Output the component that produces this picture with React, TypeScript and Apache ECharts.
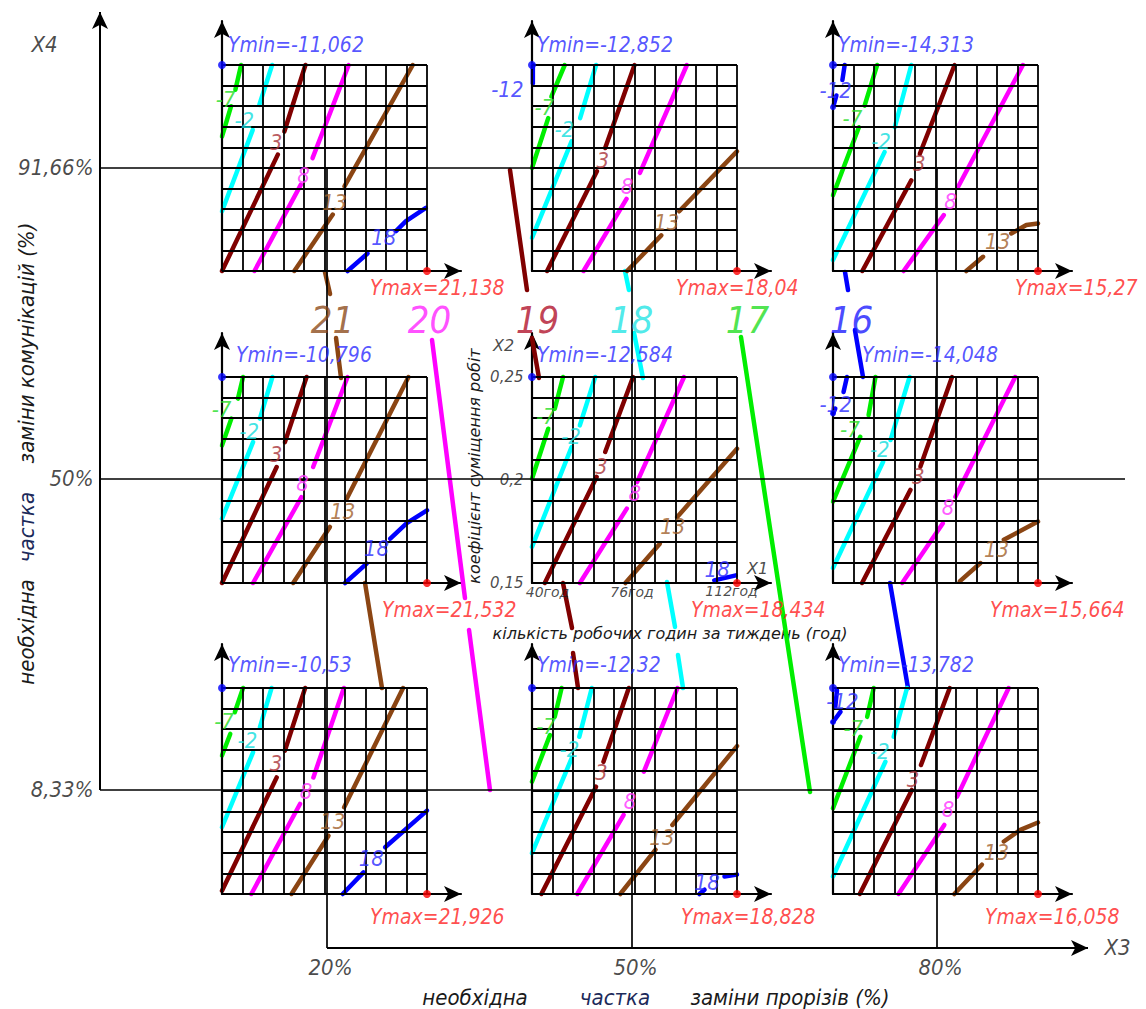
import React, { useEffect, useRef } from "react";
import * as echarts from "echarts";

const W = 1146;
const H = 1009;
const FONT = "'DejaVu Sans Condensed', 'DejaVu Sans', sans-serif";
const FONT_WIDE = "'DejaVu Sans', sans-serif";

// ---------- outer axes (X3 horizontal, X4 vertical), %
const x3Ticks = [20, 50, 80];
const x3TickLabels = ["20%", "50%", "80%"];
const x4Ticks = [91.66, 50, 8.33];
const x4TickLabels = ["91,66%", "50%", "8,33%"];

// ---------- inner axes of each small panel (X1 hours, X2 coefficient)
const x1GridValues = [40, 47.2, 54.4, 61.6, 68.8, 76, 83.2, 90.4, 97.6, 104.8, 112];
const x2GridValues = [0.15, 0.16, 0.17, 0.18, 0.19, 0.2, 0.21, 0.22, 0.23, 0.24, 0.25];
const x1Ticks = [40, 76, 112];
const x1TickLabels = ["40год", "76год", "112год"];
const x2Ticks = [0.25, 0.2, 0.15];
const x2TickLabels = ["0,25", "0,2", "0,15"];

// ---------- extreme values per panel (rows top->bottom, cols left->right)
const yMinValues = ["-11,062", "-12,852", "-14,313", "-10,796", "-12,584", "-14,048", "-10,53", "-12,32", "-13,782"];
const yMaxValues = ["21,138", "18,04", "15,27", "21,532", "18,434", "15,664", "21,926", "18,828", "16,058"];

type Pt = [number, number];
type Contour = { level: string; segs: Pt[][]; label: Pt };

// ---------- isolines per panel: [X1, X2]
const panelTopLeft: Contour[] = [
  { level: "-7", segs: [[[46.7, 0.25], [44.7, 0.238]], [[43.2, 0.23], [40, 0.2153]]], label: [41.4, 0.233] },
  { level: "-2", segs: [[[57.6, 0.25], [53.1, 0.2306]], [[50.8, 0.2185], [40, 0.179]]], label: [48.0, 0.2226] },
  { level: "3", segs: [[[69.3, 0.25], [61.9, 0.2177]], [[59.6, 0.2065], [40, 0.15]]], label: [59.2, 0.212] },
  { level: "8", segs: [[[84.5, 0.25], [71.8, 0.2048]], [[67.7, 0.1919], [51.4, 0.15]]], label: [68.8, 0.196] },
  { level: "13", segs: [[[107.0, 0.25], [83.0, 0.1911]], [[78.9, 0.1774], [65.4, 0.15]]], label: [79.6, 0.183] },
  { level: "18", segs: [[[84.1, 0.15], [91.1, 0.1585]], [[101.1, 0.1694], [104.6, 0.1742], [111.6, 0.1806]]], label: [97.0, 0.1661] },
];
const panelTopMid: Contour[] = [
  { level: "-12", segs: [[[40.3, 0.25], [40.3, 0.241]]], label: [31.5, 0.2379] },
  { level: "-7", segs: [[[51.5, 0.25], [46.8, 0.2347]], [[45.7, 0.2242], [40, 0.2]]], label: [44.5, 0.229] },
  { level: "-2", segs: [[[62.5, 0.25], [56.9, 0.2242]], [[53.9, 0.2129], [40, 0.1661]]], label: [51.5, 0.2185] },
  { level: "3", segs: [[[76.0, 0.25], [65.7, 0.2097]], [[62.8, 0.1984], [45.3, 0.15]]], label: [65.0, 0.2035] },
  { level: "8", segs: [[[94.4, 0.25], [77.9, 0.1976]], [[73.2, 0.185], [58.1, 0.15]]], label: [73.6, 0.1908] },
  { level: "13", segs: [[[73.4, 0.15], [85.4, 0.1673]], [[91.7, 0.179], [112, 0.2081]]], label: [87.5, 0.1734] },
];
const panelTopRight: Contour[] = [
  { level: "-12", segs: [[[44.1, 0.25], [43.3, 0.2427]], [[41.2, 0.2352], [40.2, 0.2303]]], label: [41.1, 0.2376] },
  { level: "-7", segs: [[[55.5, 0.25], [51.1, 0.2303]], [[49.1, 0.2198], [40, 0.1868]]], label: [47.0, 0.2239] },
  { level: "-2", segs: [[[67.5, 0.25], [61.7, 0.2198]], [[58.1, 0.2077], [40, 0.1553]]], label: [57.0, 0.2126] },
  { level: "3", segs: [[[82.7, 0.25], [70.5, 0.2069]], [[67.5, 0.194], [50.3, 0.15]]], label: [70.5, 0.2021] },
  { level: "8", segs: [[[106.7, 0.25], [83.9, 0.1908]], [[78.9, 0.1771], [64.8, 0.15]]], label: [81.5, 0.1835] },
  { level: "13", segs: [[[86.8, 0.15], [92.7, 0.1569]], [[102.6, 0.1682], [107.9, 0.1723], [112, 0.1731]]], label: [98.0, 0.1642] },
];
const panelMidLeft: Contour[] = [
  { level: "-7", segs: [[[47.4, 0.25], [45.6, 0.2395]], [[43.3, 0.2298], [40, 0.2168]]], label: [40.0, 0.2338] },
  { level: "-2", segs: [[[57.7, 0.25], [53.3, 0.2298]], [[50.9, 0.2184], [40, 0.1812]]], label: [49.7, 0.2233] },
  { level: "3", segs: [[[69.7, 0.25], [62.1, 0.2184]], [[59.2, 0.2063], [40, 0.15]]], label: [59.2, 0.212] },
  { level: "8", segs: [[[84.1, 0.25], [72.0, 0.2063]], [[67.9, 0.1917], [50.9, 0.15]]], label: [68.5, 0.1982] },
  { level: "13", segs: [[[105.5, 0.25], [83.8, 0.1909]], [[77.9, 0.1772], [65.0, 0.15]]], label: [82.6, 0.1845] },
  { level: "18", segs: [[[83.2, 0.15], [90.8, 0.1594]], [[99.1, 0.1715], [104.9, 0.1791], [112, 0.1853]]], label: [94.4, 0.1667] },
];
const panelMidMid: Contour[] = [
  { level: "-7", segs: [[[50.9, 0.25], [48.0, 0.2346]], [[45.7, 0.2249], [40, 0.2006]]], label: [45.0, 0.2306] },
  { level: "-2", segs: [[[62.2, 0.25], [56.8, 0.2265]], [[53.9, 0.216], [40, 0.1675]]], label: [53.9, 0.2209] },
  { level: "3", segs: [[[75.5, 0.25], [65.7, 0.2136]], [[62.7, 0.2015], [44.5, 0.15]]], label: [64.5, 0.2063] },
  { level: "8", segs: [[[93.4, 0.25], [76.9, 0.199]], [[73.3, 0.1861], [56.8, 0.15]]], label: [76.3, 0.1934] },
  { level: "13", segs: [[[72.8, 0.15], [84.9, 0.1691]], [[91.0, 0.182], [112, 0.2152]]], label: [89.6, 0.1772] },
  { level: "18", segs: [[[104.0, 0.1513], [111.6, 0.1537]]], label: [105.2, 0.1565] },
];
const panelMidRight: Contour[] = [
  { level: "-12", segs: [[[44.9, 0.25], [43.7, 0.2427]], [[40.8, 0.2347], [40, 0.2323]]], label: [41.1, 0.2363] },
  { level: "-7", segs: [[[54.9, 0.25], [52.5, 0.2315]], [[49.6, 0.221], [40, 0.1895]]], label: [46.1, 0.2242] },
  { level: "-2", segs: [[[66.9, 0.25], [60.2, 0.2194]], [[57.6, 0.2089], [40, 0.1573]]], label: [56.6, 0.2145] },
  { level: "3", segs: [[[81.8, 0.25], [70.7, 0.2065]], [[67.2, 0.1952], [50.2, 0.15]]], label: [70.1, 0.2016] },
  { level: "8", segs: [[[104.0, 0.25], [83.0, 0.1919]], [[78.6, 0.179], [64.3, 0.15]]], label: [80.6, 0.1863] },
  { level: "13", segs: [[[84.5, 0.1508], [91.8, 0.1597]], [[100.0, 0.171], [112, 0.1798]]], label: [97.6, 0.1661] },
];
const panelBottomLeft: Contour[] = [
  { level: "-7", segs: [[[47.4, 0.25], [44.5, 0.2382]], [[42.9, 0.2277], [40, 0.2172]]], label: [40.9, 0.2333] },
  { level: "-2", segs: [[[57.4, 0.25], [53.3, 0.2309]], [[50.9, 0.2188], [40, 0.1824]]], label: [49.1, 0.2244] },
  { level: "3", segs: [[[69.2, 0.25], [62.1, 0.2196]], [[59.2, 0.2066], [40, 0.1516]]], label: [59.2, 0.2131] },
  { level: "8", segs: [[[82.8, 0.25], [72.1, 0.2066]], [[67.4, 0.1937], [50.3, 0.15]]], label: [69.7, 0.1994] },
  { level: "13", segs: [[[103.6, 0.25], [82.9, 0.1921]], [[77.4, 0.1783], [64.4, 0.15]]], label: [79.1, 0.1848] },
  { level: "18", segs: [[[82.4, 0.15], [89.7, 0.1605]], [[97.3, 0.1727], [112, 0.1905]]], label: [92.6, 0.167] },
];
const panelBottomMid: Contour[] = [
  { level: "-7", segs: [[[50.4, 0.25], [48.0, 0.236]], [[46.3, 0.2271], [40, 0.2045]]], label: [45.1, 0.2311] },
  { level: "-2", segs: [[[61.0, 0.25], [56.6, 0.2263]], [[53.9, 0.2158], [40, 0.1698]]], label: [53.3, 0.2198] },
  { level: "3", segs: [[[74.0, 0.25], [65.1, 0.2142]], [[62.5, 0.2021], [43.3, 0.15]]], label: [64.5, 0.2085] },
  { level: "8", segs: [[[91.1, 0.25], [79.3, 0.2094]], [[72.2, 0.1884], [55.9, 0.15]]], label: [74.6, 0.1948] },
  { level: "13", segs: [[[71.0, 0.15], [83.4, 0.1715]], [[89.3, 0.1835], [112, 0.2218]]], label: [85.8, 0.1771] },
  { level: "18", segs: [[[98.8, 0.15], [100.6, 0.1521]], [[107.6, 0.1585], [112, 0.1594]]], label: [101.7, 0.1553] },
];
const panelBottomRight: Contour[] = [
  { level: "-12", segs: [[[41.4, 0.2489], [40.8, 0.2408]], [[42.6, 0.2384], [40, 0.2335]]], label: [43.5, 0.2432] },
  { level: "-7", segs: [[[54.3, 0.25], [52.0, 0.236]], [[49.6, 0.2263], [40, 0.1916]]], label: [47.3, 0.2303] },
  { level: "-2", segs: [[[66.0, 0.25], [61.3, 0.2263]], [[58.4, 0.2142], [40, 0.1585]]], label: [56.6, 0.219] },
  { level: "3", segs: [[[81.0, 0.25], [70.9, 0.2126]], [[67.7, 0.2005], [49.4, 0.15]]], label: [68.3, 0.2053] },
  { level: "8", segs: [[[101.7, 0.25], [83.6, 0.1973]], [[79.1, 0.1835], [63.0, 0.15]]], label: [80.6, 0.1908] },
  { level: "13", segs: [[[82.6, 0.15], [92.3, 0.1642]], [[100.0, 0.1755], [105.8, 0.1811], [112, 0.1847]]], label: [97.6, 0.1698] },
];
const minus12Dots: (Pt | null)[] = [null, null, [40, 0.2295], null, null, [40, 0.2323], null, null, [40, 0.2335]];

// ---------- connecting isolines between panels, in outer coords [X3, X4]
const connectorLevels = ["21", "20", "19", "18", "17", "16"];
const connector21: Pt[][] = [[[19.8, 77.73], [20.3, 74.78]], [[20.89, 68.88], [21.38, 63.53]], [[23.74, 36.06], [25.41, 21.99]]];
const connector20: Pt[][] = [[[30.33, 68.62], [33.57, 34.05]], [[33.97, 29.77], [36.03, 8.33]]];
const connector19: Pt[][] = [[[38.0, 91.39], [39.67, 75.31]], [[40.16, 68.88], [40.85, 63.53]], [[43.21, 36.06], [44.1, 30.03]], [[44.2, 26.68], [44.69, 21.99]]];
const connector18: Pt[][] = [[[49.31, 77.86], [49.7, 75.31]], [[50.2, 69.55], [51.08, 63.53]], [[53.44, 36.2], [54.23, 30.17]], [[54.52, 26.42], [55.02, 21.99]]];
const connector17: Pt[][] = [[[60.72, 69.02], [67.51, 8.06]]];
const connector16: Pt[][] = [[[70.95, 77.73], [71.25, 75.31]], [[71.93, 69.95], [72.72, 63.66]], [[75.38, 36.06], [77.15, 21.99]]];
const connectorLabelPos: Pt[] = [[20.59, 71.2], [30.13, 71.2], [40.75, 71.2], [50.0, 71.2], [61.41, 71.2], [71.64, 71.2]];

// ---------- styles / layout
const levelColor: Record<string, string> = {
  "-12": "#0000ff", "-7": "#00ee00", "-2": "#00ffff", "3": "#800000", "8": "#ff00ff", "13": "#8b4513", "18": "#0000ff",
};
const levelTextColor: Record<string, string> = {
  "-12": "#2a2aff", "-7": "#22dd22", "-2": "#11dddd", "3": "#a83238", "8": "#ff33ff", "13": "#a0602a", "18": "#2a2aff",
};
const connectorColor: Record<string, string> = {
  "21": "#8b4513", "20": "#ff00ff", "19": "#800000", "18": "#00ffff", "17": "#00ee00", "16": "#0000ff",
};
const connectorTextColor: Record<string, string> = {
  "21": "#8b4a1a", "20": "#ff22ff", "19": "#b0102a", "18": "#22e5e5", "17": "#22dd22", "16": "#1a1aff",
};

const COL_LEFT = [222, 532, 833];
const ROW_TOP = [65, 377, 688];
const PANEL_W = 205;
const PANEL_H = 206;
const EXT_X = 34;
const EXT_Y = 44;
const yMinOffset = [[6, -20], [5, -20], [5, -20], [14, -22], [5, -22], [29, -22], [6, -23], [5, -23], [5, -23]];
const yMaxOffset = [[-57, 17], [-61, 17], [-23, 17], [-45, 27], [-46, 27], [-48, 27], [-57, 23], [-56, 23], [-53, 23]];
const x1LabelOffset = [[16, 9], [-2, 9], [-5, 8]];

// outer px mapping
const PX20 = 327;
const PX_PER = 10.1667;
const PY833 = 790;
const PY_PER = 7.4645;
const xAt = (px: number) => 20 + (px - PX20) / PX_PER;
const yAt = (py: number) => 8.33 + (PY833 - py) / PY_PER;

const panels = [panelTopLeft, panelTopMid, panelTopRight, panelMidLeft, panelMidMid, panelMidRight, panelBottomLeft, panelBottomMid, panelBottomRight];
const connectors = [connector21, connector20, connector19, connector18, connector17, connector16];

function txt(size: number, color: string, family: string = FONT) {
  return { fontFamily: family, fontStyle: "italic", fontSize: size, color };
}

function buildOption() {
  const grids: any[] = [{ left: 0, top: 0, width: W, height: H }];
  const xAxes: any[] = [{ gridIndex: 0, type: "value", min: xAt(0), max: xAt(W), show: false }];
  const yAxes: any[] = [{ gridIndex: 0, type: "value", min: yAt(H), max: yAt(0), show: false }];
  const series: any[] = [];

  const axisLine = {
    show: true,
    onZero: false,
    symbol: ["none", "arrow"],
    symbolSize: [12, 17],
    lineStyle: { color: "#000", width: 2.2 },
  };

  // outer frame lines
  const axX = xAt(100);
  series.push({
    type: "line", xAxisIndex: 0, yAxisIndex: 0, data: [], silent: true, z: 1,
    markLine: {
      silent: true, symbol: ["none", "none"], label: { show: false }, animation: false,
      lineStyle: { color: "#000", width: 1.7, type: "solid" },
      emphasis: { disabled: true },
      data: [
        [{ coord: [axX, 91.66] }, { coord: [80, 91.66] }],
        [{ coord: [axX, 50] }, { coord: [xAt(1125), 50] }],
        [{ coord: [axX, 8.33] }, { coord: [80, 8.33] }],
        ...x3Ticks.map((v) => [{ coord: [v, yAt(948)] }, { coord: [v, 91.66] }]),
      ],
    },
  });
  series.push({
    type: "line", xAxisIndex: 0, yAxisIndex: 0, data: [], silent: true, z: 1,
    markLine: {
      silent: true, symbol: ["none", "arrow"], symbolSize: [12, 17], label: { show: false }, animation: false,
      lineStyle: { color: "#000", width: 2, type: "solid" },
      itemStyle: { color: "#000" },
      emphasis: { disabled: true },
      data: [
        [{ coord: [axX, 8.33] }, { coord: [axX, yAt(12)] }],
        [{ coord: [20, yAt(948)] }, { coord: [xAt(1088), yAt(948)] }],
      ],
    },
  });

  // outer tick labels & axis names
  series.push({
    type: "scatter", xAxisIndex: 0, yAxisIndex: 0, symbolSize: 1, silent: true, clip: false, z: 5,
    itemStyle: { color: "transparent" },
    data: [
      ...x4Ticks.map((v, i) => ({
        value: [axX, v],
        label: { show: true, formatter: x4TickLabels[i], position: [-6, 0], align: "right", verticalAlign: "middle", ...txt(22, "#1a1a1a") },
      })),
      ...x3Ticks.map((v, i) => ({
        value: [v, yAt(948)],
        label: { show: true, formatter: x3TickLabels[i], position: [4, 20], align: "center", verticalAlign: "middle", ...txt(22, "#1a1a1a") },
      })),
      { value: [xAt(45), yAt(45)], label: { show: true, formatter: "X4", position: [0, 0], align: "center", verticalAlign: "middle", ...txt(22, "#1a1a1a") } },
      { value: [xAt(1105), yAt(948)], label: { show: true, formatter: "X3", position: [0, 0], align: "left", verticalAlign: "middle", ...txt(22, "#1a1a1a") } },
    ],
  });

  // connectors
  connectors.forEach((segs, ci) => {
    const lvl = connectorLevels[ci];
    segs.forEach((seg) => {
      series.push({
        type: "line", xAxisIndex: 0, yAxisIndex: 0, data: seg, symbol: "none", silent: true, z: 3, clip: false,
        lineStyle: { color: connectorColor[lvl], width: 4.5, cap: "round" },
      });
    });
  });
  series.push({
    type: "scatter", xAxisIndex: 0, yAxisIndex: 0, symbolSize: 1, silent: true, clip: false, z: 5,
    itemStyle: { color: "transparent" },
    data: connectorLabelPos.map((p, i) => ({
      value: p,
      label: { show: true, formatter: connectorLevels[i], position: [0, 0], align: "center", verticalAlign: "middle", ...txt(38, connectorTextColor[connectorLevels[i]]) },
    })),
  });

  // panels
  panels.forEach((contours, pi) => {
    const r = Math.floor(pi / 3);
    const c = pi % 3;
    const g = pi + 1;
    grids.push({ left: COL_LEFT[c], top: ROW_TOP[r] - EXT_Y, width: PANEL_W + EXT_X, height: PANEL_H + EXT_Y });
    xAxes.push({
      gridIndex: g, type: "value", min: 40, max: 40 + (72 * (PANEL_W + EXT_X)) / PANEL_W,
      axisLine, axisTick: { show: false }, axisLabel: { show: false }, splitLine: { show: false },
    });
    yAxes.push({
      gridIndex: g, type: "value", min: 0.15, max: 0.15 + (0.1 * (PANEL_H + EXT_Y)) / PANEL_H,
      axisLine, axisTick: { show: false }, axisLabel: { show: false }, splitLine: { show: false },
    });

    // cell grid
    series.push({
      type: "line", xAxisIndex: g, yAxisIndex: g, data: [], silent: true, z: 2,
      markLine: {
        silent: true, symbol: ["none", "none"], label: { show: false }, animation: false,
        lineStyle: { color: "#000", width: 1.8, type: "solid" },
        emphasis: { disabled: true },
        data: [
          ...x1GridValues.map((v) => [{ coord: [v, 0.15] }, { coord: [v, 0.25] }]),
          ...x2GridValues.map((v) => [{ coord: [40, v] }, { coord: [112, v] }]),
        ],
      },
    });

    // isolines
    contours.forEach((ct) => {
      ct.segs.forEach((seg) => {
        series.push({
          type: "line", xAxisIndex: g, yAxisIndex: g, data: seg, symbol: "none", silent: true, z: 3, clip: false,
          lineStyle: { color: levelColor[ct.level], width: 4.5, cap: "round" },
        });
      });
    });

    // isoline labels
    series.push({
      type: "scatter", xAxisIndex: g, yAxisIndex: g, symbolSize: 1, silent: true, clip: false, z: 5,
      itemStyle: { color: "transparent" },
      data: contours.map((ct) => ({
        value: ct.label,
        label: { show: true, formatter: ct.level, position: [0, 0], align: "center", verticalAlign: "middle", ...txt(22, levelTextColor[ct.level]) },
      })),
    });

    // extreme markers
    const dots: any[] = [
      {
        value: [40, 0.25], itemStyle: { color: "#0000ff" },
        label: { show: true, formatter: "Ymin=" + yMinValues[pi], position: [yMinOffset[pi][0] + 4, yMinOffset[pi][1] + 4], align: "left", verticalAlign: "middle", ...txt(21, "#2a2aff") },
      },
      {
        value: [112, 0.15], itemStyle: { color: "#ff0000" },
        label: { show: true, formatter: "Ymax=" + yMaxValues[pi], position: [yMaxOffset[pi][0] + 4, yMaxOffset[pi][1] + 4], align: "left", verticalAlign: "middle", ...txt(21, "#ff2020") },
      },
    ];
    const d12 = minus12Dots[pi];
    if (d12) dots.push({ value: d12, itemStyle: { color: "#0000ff" }, symbolSize: 6 });
    series.push({ type: "scatter", xAxisIndex: g, yAxisIndex: g, symbolSize: 8, silent: true, clip: false, z: 6, data: dots });

    // middle panel axis annotation
    if (pi === 4) {
      series.push({
        type: "scatter", xAxisIndex: g, yAxisIndex: g, symbolSize: 1, silent: true, clip: false, z: 5,
        itemStyle: { color: "transparent" },
        data: [
          ...x2Ticks.map((v, i) => ({
            value: [40, v],
            label: { show: true, formatter: x2TickLabels[i], position: [-8, 0], align: "right", verticalAlign: "middle", ...txt(15, "#1a1a1a", FONT_WIDE) },
          })),
          ...x1Ticks.map((v, i) => ({
            value: [v, 0.15],
            label: { show: true, formatter: x1TickLabels[i], position: [x1LabelOffset[i][0], x1LabelOffset[i][1]], align: "center", verticalAlign: "middle", ...txt(14, "#1a1a1a", FONT_WIDE) },
          })),
          { value: [40, 0.25], label: { show: true, formatter: "X2", position: [-28, -31], align: "center", verticalAlign: "middle", ...txt(16, "#1a1a1a", FONT_WIDE) } },
          { value: [112, 0.15], label: { show: true, formatter: "X1", position: [21, -14], align: "center", verticalAlign: "middle", ...txt(16, "#1a1a1a", FONT_WIDE) } },
        ],
      });
    }
  });

  const tstyle = (text: string, size: number, fill: string, family: string = FONT) => ({
    text, fontFamily: family, fontStyle: "italic", fontSize: size, fill, align: "center", verticalAlign: "middle",
  });
  const graphic: any[] = [
    { type: "text", x: 475, y: 997, style: tstyle("необхідна", 22, "#1a1a1a") },
    { type: "text", x: 615, y: 997, style: tstyle("частка", 22, "#1c2a5a") },
    { type: "text", x: 790, y: 997, style: tstyle("заміни прорізів (%)", 22, "#1a1a1a") },
    { type: "text", x: 26, y: 632, rotation: Math.PI / 2, style: tstyle("необхідна", 22, "#1a1a1a") },
    { type: "text", x: 26, y: 527, rotation: Math.PI / 2, style: tstyle("частка", 22, "#1c2a5a") },
    { type: "text", x: 26, y: 343, rotation: Math.PI / 2, style: tstyle("заміни комунікацій (%)", 22, "#1a1a1a") },
    { type: "text", x: 474, y: 466, rotation: Math.PI / 2, style: tstyle("коефіцієнт суміщення робіт", 16, "#1a1a1a", FONT_WIDE) },
    { type: "text", x: 670, y: 633, style: tstyle("кількість робочих годин за тиждень (год)", 16, "#1a1a1a", FONT_WIDE) },
  ];

  return {
    animation: false,
    backgroundColor: "#fff",
    grid: grids,
    xAxis: xAxes,
    yAxis: yAxes,
    series,
    graphic,
  };
}

export default function App() {
  const ref = useRef<HTMLDivElement>(null);
  useEffect(() => {
    if (!ref.current) return;
    const chart = echarts.init(ref.current, null, { renderer: "svg" });
    chart.setOption(buildOption() as any);
    return () => chart.dispose();
  }, []);
  return <div ref={ref} style={{ position: "absolute", left: 0, top: 0, width: W, height: H, background: "#fff" }} />;
}
